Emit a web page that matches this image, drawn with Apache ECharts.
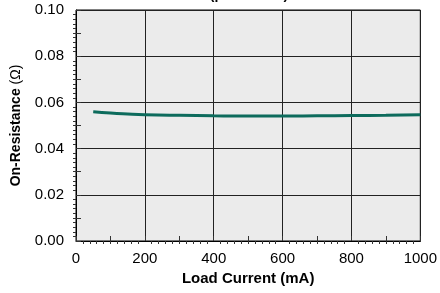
<!DOCTYPE html>
<html><head><meta charset="utf-8">
<script src="https://cdn.jsdelivr.net/npm/echarts@6/dist/echarts.min.js"></script>
<style>html,body{margin:0;padding:0;background:#fff}#c{width:440px;height:293px}</style>
</head><body><div id="c"></div>
<script>
const loadCurrent = [50, 100, 150, 200, 300, 400, 500, 600, 700, 800, 900, 1000];
const onResistance = [0.0560, 0.0554, 0.0550, 0.0547, 0.0544, 0.0542, 0.0541, 0.0541, 0.0542, 0.0543, 0.0544, 0.0546];
const xTicks = [0, 200, 400, 600, 800, 1000];
const yTicks = [0.00, 0.02, 0.04, 0.06, 0.08, 0.10];
const titleText = '(per switch)';
const xName = 'Load Current (mA)';
const yNameMain = 'On-Resistance ';
const yNameUnit = '(\u03A9)';

const chart = echarts.init(document.getElementById('c'), null, {renderer: 'canvas'});
const font = 'Liberation Sans, Arial, Helvetica, sans-serif';
chart.setOption({
  animation: false,
  graphic: [{
    type: 'text', x: 249, y: -12,
    style: {text: titleText, font: 'bold 14px ' + font, fill: '#000', textAlign: 'center', textVerticalAlign: 'top'}
  }],
  grid: {left: 76, right: 18, top: 10, bottom: 52, show: true, backgroundColor: '#ebebeb', borderColor: '#000', borderWidth: 1},
  xAxis: [{
    type: 'value', min: xTicks[0], max: xTicks[xTicks.length-1], interval: 200,
    name: xName, nameLocation: 'middle', nameGap: 27,
    nameTextStyle: {fontFamily: font, fontWeight: 'bold', fontSize: 15, color: '#000'},
    axisLine: {show: true, lineStyle: {color: '#000', width: 1}},
    axisTick: {show: false},
    minorTick: {show: true, splitNumber: 10, length: 3, lineStyle: {color: '#333'}},
    axisLabel: {fontFamily: font, fontSize: 15, color: '#000', margin: 10, formatter: v => String(v)},
    splitLine: {show: true, lineStyle: {color: '#222', width: 1}}
  }, {
    type: 'value', min: 0, max: 1000, interval: 100, position: 'bottom',
    axisLine: {show: false}, axisLabel: {show: false}, splitLine: {show: false},
    axisTick: {show: true, inside: true, length: 5, lineStyle: {color: '#333'}}
  }],
  yAxis: [{
    type: 'value', min: yTicks[0], max: yTicks[yTicks.length-1], interval: 0.02,
    name: '{b|' + yNameMain + '}{r|' + yNameUnit + '}', nameLocation: 'middle', nameGap: 53,
    nameTextStyle: {color: '#000', rich: {
      b: {fontFamily: font, fontWeight: 'bold', fontSize: 14, color: '#000'},
      r: {fontFamily: font, fontWeight: 'normal', fontSize: 14, color: '#000'}
    }},
    axisLine: {show: true, lineStyle: {color: '#000', width: 1}},
    axisTick: {show: false},
    minorTick: {show: true, splitNumber: 10, length: 3, lineStyle: {color: '#333'}},
    axisLabel: {fontFamily: font, fontSize: 15, color: '#000', margin: 12, formatter: v => v.toFixed(2)},
    splitLine: {show: true, lineStyle: {color: '#222', width: 1}}
  }, {
    type: 'value', min: 0, max: 0.1, interval: 0.01, position: 'left',
    axisLine: {show: false}, axisLabel: {show: false}, splitLine: {show: false},
    axisTick: {show: true, inside: true, length: 5, lineStyle: {color: '#333'}}
  }],
  series: [{
    type: 'line', xAxisIndex: 0, yAxisIndex: 0,
    data: loadCurrent.map((x, i) => [x, onResistance[i]]),
    smooth: true, showSymbol: false,
    lineStyle: {color: '#0d6b5c', width: 3}
  }]
});
</script></body></html>
